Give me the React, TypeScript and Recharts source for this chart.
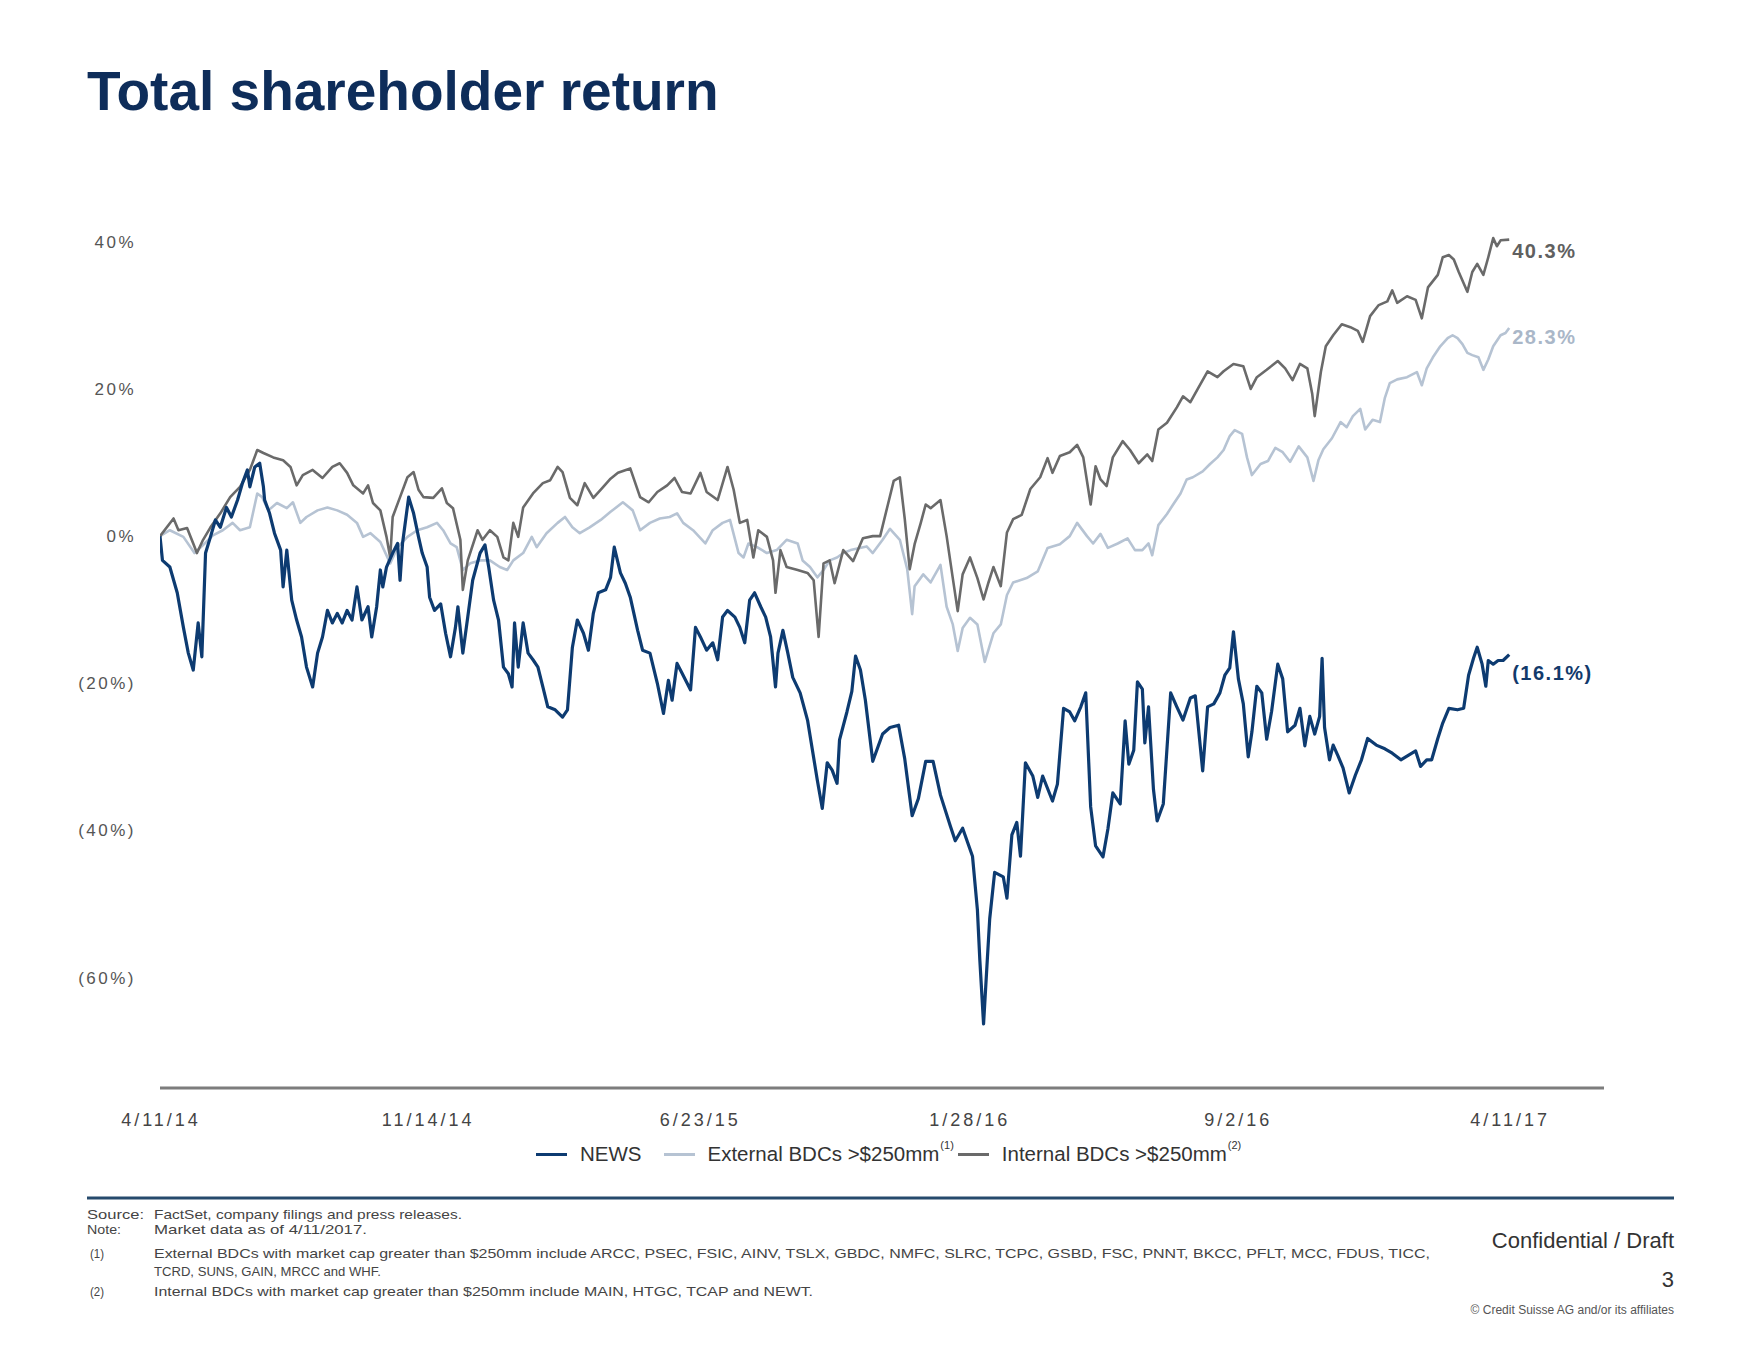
import React from 'react';
import { LineChart, Line, XAxis, YAxis, Legend } from 'recharts';

const FONT = "'Liberation Sans', Arial, sans-serif";

// x axis: days since 4/11/14
const tickDays = [0, 217, 438, 657, 875, 1096];
const tickLabels = ['4/11/14', '11/14/14', '6/23/15', '1/28/16', '9/2/16', '4/11/17'];
const yTicks = [40, 20, 0, -20, -40, -60];

// Internal BDCs >$250mm
const internalDays = [
  0, 11, 15, 22, 27, 30, 35, 41, 49, 57,
  65, 73, 79, 84, 92, 100, 106, 111, 116, 124,
  132, 140, 146, 152, 157, 165, 169, 173, 179, 184,
  187, 189, 195, 201, 206, 210, 214, 222, 229, 233,
  238, 244, 246, 250, 258, 262, 268, 274, 279, 283,
  287, 291, 295, 303, 311, 317, 323, 327, 333, 339,
  345, 352, 359, 366, 372, 382, 390, 397, 404, 412,
  418, 424, 431, 439, 444, 453, 461, 466, 471, 477,
  482, 486, 493, 498, 500, 504, 509, 518, 526, 531,
  535, 539, 544, 548, 555, 563, 571, 579, 585, 591,
  596, 601, 605, 609, 613, 618, 622, 626, 634, 639,
  644, 648, 652, 658, 664, 669, 673, 677, 683, 688,
  693, 700, 707, 715, 721, 725, 731, 739, 745, 750,
  756, 760, 764, 769, 774, 782, 788, 795, 802, 806,
  811, 818, 826, 831, 837, 843, 851, 859, 864, 872,
  880, 886, 891, 899, 908, 914, 920, 926, 932, 936,
  938, 943, 947, 953, 960, 967, 973, 977, 983, 990,
  997, 1001, 1005, 1013, 1020, 1025, 1030, 1038, 1042, 1047,
  1051, 1055, 1062, 1066, 1070, 1075, 1079, 1083, 1086, 1089,
  1096,
];
const internalReturn = [
  0, 2.4, 0.8, 1.1, -1.0, -2.3, -0.5, 1.2, 3.1, 5.3,
  6.7, 9.0, 11.7, 11.3, 10.7, 10.3, 9.4, 6.9, 8.3, 9.0,
  7.9, 9.4, 9.9, 8.6, 6.9, 5.8, 6.9, 4.5, 3.5, -0.1,
  -2.9, 2.6, 5.3, 8.0, 8.7, 6.3, 5.3, 5.2, 6.5, 4.5,
  3.8, -0.5, -7.3, -3.3, 0.8, -0.5, 0.8, -0.1, -2.9, -3.3,
  1.8, -0.1, 3.9, 5.8, 7.2, 7.6, 9.4, 8.7, 5.2, 4.2,
  7.2, 5.2, 6.5, 7.8, 8.6, 9.2, 5.3, 4.6, 6.0, 6.9,
  7.9, 6.0, 5.8, 8.6, 6.0, 4.9, 9.4, 6.3, 1.8, 2.2,
  -2.9, 0.8, -0.1, -3.3, -7.7, -1.9, -4.2, -4.6, -5.0, -6.0,
  -13.7, -3.7, -3.3, -6.4, -1.9, -3.4, -0.3, 0, 0, 4.1,
  7.5, 8.0, 2.3, -4.5, -1.1, 1.8, 4.3, 3.8, 4.9, 0,
  -5.7, -10.2, -5.2, -2.9, -5.7, -8.6, -6.3, -4.2, -6.8, 0.5,
  2.3, 2.9, 6.4, 8.0, 10.6, 8.6, 10.9, 11.4, 12.4, 10.7,
  4.3, 9.5, 7.7, 6.8, 10.7, 12.9, 11.7, 9.9, 11.1, 10.2,
  14.5, 15.4, 17.5, 19.0, 18.2, 20.0, 22.4, 21.6, 22.4, 23.4,
  23.1, 20.0, 21.6, 22.6, 23.8, 22.8, 21.2, 23.4, 22.8, 19.3,
  16.3, 22.3, 25.8, 27.3, 28.8, 28.4, 27.9, 26.4, 29.9, 31.4,
  31.9, 33.4, 31.7, 32.6, 32.1, 29.6, 33.8, 35.5, 37.9, 38.2,
  37.6, 35.9, 33.2, 35.9, 37.0, 35.5, 37.9, 40.5, 39.4, 40.2,
  40.3,
];

// External BDCs >$250mm
const externalDays = [
  0, 8, 19, 28, 35, 43, 51, 59, 65, 73,
  79, 83, 88, 95, 103, 108, 114, 119, 128, 136,
  144, 152, 160, 165, 171, 179, 187, 193, 201, 209,
  217, 225, 230, 236, 241, 246, 252, 260, 268, 276,
  282, 287, 295, 302, 306, 314, 323, 329, 335, 341,
  349, 358, 366, 376, 384, 390, 398, 406, 414, 420,
  425, 433, 443, 449, 457, 463, 470, 474, 478, 485,
  493, 501, 509, 518, 522, 528, 534, 539, 544, 550,
  555, 561, 574, 579, 587, 593, 601, 607, 611, 613,
  620, 626, 634, 639, 644, 648, 652, 658, 664, 670,
  677, 683, 688, 693, 704, 713, 721, 731, 739, 745,
  753, 758, 764, 770, 778, 786, 792, 798, 803, 806,
  811, 818, 823, 829, 834, 839, 847, 853, 859, 864,
  869, 873, 879, 883, 887, 894, 900, 906, 912, 918,
  925, 932, 937, 941, 945, 952, 959, 964, 969, 975,
  979, 985, 991, 995, 999, 1005, 1013, 1021, 1025, 1029,
  1034, 1040, 1046, 1050, 1054, 1058, 1062, 1066, 1071, 1075,
  1079, 1083, 1089, 1093, 1096,
];
const externalReturn = [
  0, 0.8, -0.1, -2.3, -1.2, 0.1, 0.8, 1.8, 0.8, 1.2,
  5.8, 5.3, 3.5, 4.5, 3.8, 4.6, 1.8, 2.6, 3.5, 3.9,
  3.5, 2.9, 1.8, -0.1, 0.4, -0.8, -3.7, -1.5, -0.1, 0.8,
  1.2, 1.8, 0.8, -1.0, -1.5, -4.6, -3.7, -3.3, -3.3, -4.2,
  -4.6, -3.3, -2.3, -0.1, -1.5, 0.4, 1.8, 2.6, 1.2, 0.4,
  1.2, 2.2, 3.3, 4.6, 3.5, 0.8, 1.8, 2.4, 2.6, 3.1,
  1.8, 0.8, -1.0, 0.8, 1.8, 2.2, -2.3, -2.9, -1.0, -1.5,
  -2.3, -1.9, -0.5, -1.0, -3.3, -4.2, -5.6, -4.6, -3.3, -2.9,
  -2.3, -1.9, -1.4, -2.3, -0.5, 1.0, -0.5, -4.5, -10.6, -6.8,
  -5.2, -6.3, -3.9, -9.6, -12.0, -15.6, -12.5, -11.1, -12.0, -17.1,
  -13.2, -12.0, -8.0, -6.3, -5.7, -4.8, -1.6, -1.1, 0, 1.8,
  0, -1.0, 0.3, -1.6, -1.0, -0.3, -1.9, -1.9, -1.0, -2.6,
  1.5, 3.0, 4.3, 5.8, 7.7, 8.0, 8.8, 9.8, 10.7, 11.7,
  13.6, 14.4, 13.9, 10.7, 8.3, 9.8, 10.2, 12.0, 11.4, 10.1,
  12.2, 10.7, 7.5, 10.3, 11.8, 13.3, 15.5, 14.8, 16.3, 17.3,
  14.5, 15.8, 15.5, 18.8, 20.8, 21.3, 21.6, 22.3, 20.5, 22.8,
  24.3, 25.8, 26.9, 27.3, 26.9, 26.1, 24.9, 24.6, 24.3, 22.6,
  24.0, 25.8, 27.3, 27.6, 28.3,
];

// NEWS
const newsDays = [
  0, 2, 8, 14, 19, 23, 27, 31, 34, 37,
  41, 45, 49, 54, 58, 63, 67, 71, 73, 77,
  81, 84, 85, 89, 93, 98, 100, 103, 107, 111,
  115, 119, 124, 128, 132, 136, 140, 144, 148, 152,
  156, 160, 164, 169, 172, 176, 179, 181, 184, 189,
  193, 195, 197, 202, 206, 210, 213, 217, 219, 223,
  228, 232, 236, 240, 242, 246, 250, 254, 260, 264,
  267, 271, 275, 279, 283, 286, 288, 291, 295, 299,
  303, 307, 311, 315, 321, 327, 331, 335, 339, 344,
  348, 352, 356, 362, 366, 369, 374, 378, 382, 388,
  392, 398, 404, 409, 413, 416, 420, 424, 431, 435,
  439, 444, 449, 453, 457, 461, 467, 471, 475, 479,
  483, 488, 492, 496, 500, 502, 506, 510, 514, 520,
  526, 530, 534, 538, 542, 546, 550, 552, 558, 562,
  565, 569, 573, 579, 587, 593, 600, 605, 611, 616,
  622, 628, 634, 642, 646, 652, 660, 664, 666, 669,
  672, 674, 678, 685, 688, 692, 696, 699, 703, 709,
  713, 717, 725, 729, 734, 739, 743, 748, 752, 756,
  760, 766, 770, 774, 780, 784, 787, 791, 794, 798,
  800, 803, 807, 810, 815, 821, 826, 831, 837, 841,
  847, 851, 856, 861, 865, 869, 872, 876, 880, 884,
  887, 891, 895, 899, 903, 908, 912, 916, 922, 926,
  930, 934, 938, 942, 944, 946, 950, 953, 957, 961,
  966, 971, 976, 981, 988, 995, 1001, 1008, 1013, 1020,
  1024, 1029, 1033, 1038, 1042, 1047, 1054, 1059, 1063, 1067,
  1070, 1074, 1077, 1079, 1083, 1087, 1091, 1096,
];
const newsReturn = [
  0, -3.3, -4.2, -7.7, -12.4, -15.9, -18.2, -11.8, -16.4, -2.3,
  -0.1, 2.2, 1.2, 3.9, 2.6, 4.9, 7.2, 9.0, 6.7, 9.4,
  9.9, 6.7, 4.9, 3.1, 0.4, -1.9, -6.9, -1.9, -8.7, -11.4,
  -13.7, -17.8, -20.5, -15.9, -13.7, -10.1, -11.8, -10.5, -11.8, -10.1,
  -11.4, -6.9, -11.4, -9.6, -13.7, -9.6, -4.6, -6.9, -4.2, -2.3,
  -1.0, -6.0, -1.0, 5.3, 3.1, -0.1, -2.3, -4.2, -8.3, -10.1,
  -9.2, -13.2, -16.4, -12.4, -9.6, -15.9, -11.0, -6.0, -2.3, -1.2,
  -4.2, -8.7, -11.4, -17.8, -18.7, -20.5, -11.8, -17.8, -11.8, -15.9,
  -16.8, -17.8, -20.5, -23.2, -23.6, -24.6, -23.6, -15.1, -11.4, -13.2,
  -15.5, -10.5, -7.7, -7.3, -5.6, -1.5, -5.0, -6.4, -8.3, -12.8,
  -15.5, -15.9, -20.0, -24.1, -19.6, -22.3, -17.3, -18.6, -20.9, -12.4,
  -13.7, -15.5, -14.5, -16.8, -11.0, -10.1, -11.0, -12.4, -14.5, -8.7,
  -7.7, -9.6, -11.0, -13.7, -20.5, -15.9, -12.8, -15.9, -19.2, -21.3,
  -25.0, -29.1, -33.2, -37.0, -30.8, -31.8, -33.6, -27.7, -23.9, -21.1,
  -16.3, -18.2, -22.3, -30.6, -26.9, -26.0, -25.7, -30.3, -38.0, -35.7,
  -30.6, -30.6, -35.2, -39.4, -41.4, -39.7, -43.5, -50.8, -57.7, -66.3,
  -57.7, -52.0, -45.7, -46.3, -49.2, -40.6, -38.9, -43.5, -30.8, -32.6,
  -35.5, -32.6, -36.0, -33.7, -23.4, -23.9, -25.1, -23.2, -21.3, -36.8,
  -42.1, -43.6, -39.8, -34.9, -36.4, -25.1, -31.0, -29.1, -19.8, -20.8,
  -28.1, -23.2, -34.4, -38.7, -36.4, -21.3, -23.2, -25.0, -22.0, -21.7,
  -31.9, -23.2, -22.8, -21.3, -18.9, -17.9, -13.0, -19.4, -22.8, -30.0,
  -26.6, -20.4, -21.3, -27.6, -23.8, -17.4, -19.4, -26.6, -25.7, -23.4,
  -28.5, -24.5, -26.9, -24.5, -16.6, -26.0, -30.4, -28.4, -29.9, -31.5,
  -34.9, -32.5, -30.4, -27.5, -28.4, -28.9, -29.5, -30.4, -29.9, -29.2,
  -31.3, -30.4, -30.4, -27.5, -25.4, -23.4, -23.6, -23.4, -18.9, -16.6,
  -15.1, -17.4, -20.4, -16.9, -17.4, -16.9, -16.9, -16.1,
];

const toRows = (days: number[], vals: number[]) => days.map((d, i) => ({ day: d, v: vals[i] }));

const series = [
  { key: 'news', name: 'NEWS', sup: '', color: '#0d3b71', width: 3.2, rows: toRows(newsDays, newsReturn), end: '(16.1%)', endColor: '#123a6b', dy: 25, gap: 22 },
  { key: 'external', name: 'External BDCs >$250mm', sup: '(1)', color: '#b6c3d3', width: 2.6, rows: toRows(externalDays, externalReturn), end: '28.3%', endColor: '#aab7c8', dy: 16, gap: 4 },
  { key: 'internal', name: 'Internal BDCs >$250mm', sup: '(2)', color: '#6a6a6a', width: 2.6, rows: toRows(internalDays, internalReturn), end: '40.3%', endColor: '#606060', dy: 18, gap: 0 },
];

const fmtPct = (v: number) => (v < 0 ? `(${-v}%)` : `${v}%`);

const XTick = ({ x, y, payload }: any) => (
  <text x={x + 1} y={y + 38} textAnchor="middle" fontSize={18} letterSpacing={3} fill="#444" fontFamily={FONT}>
    {tickLabels[tickDays.indexOf(payload.value)]}
  </text>
);

const YTick = ({ x, y, payload }: any) => (
  <text x={x - 24} y={y + 6} textAnchor="end" fontSize={17} letterSpacing={2.5} fill="#555" fontFamily={FONT}>
    {fmtPct(payload.value)}
  </text>
);

const endLabel = (s: typeof series[number]) => (props: any) => {
  if (props.index !== s.rows.length - 1) return null;
  const x = props.x ?? props.viewBox?.x;
  const y = props.y ?? props.viewBox?.y;
  return (
    <text x={x + 3} y={y + s.dy} fill={s.endColor} fontSize={20} fontWeight="bold" letterSpacing={1.5} fontFamily={FONT}>
      {s.end}
    </text>
  );
};

const LegendRow = () => (
  <div style={{ display: 'flex', alignItems: 'center', fontFamily: FONT, fontSize: 20.5, color: '#333', whiteSpace: 'nowrap' }}>
    {series.map((s) => (
      <div key={s.key} style={{ display: 'flex', alignItems: 'center', marginRight: s.gap }}>
        <span style={{ display: 'inline-block', width: 31, borderTop: `3px solid ${s.color}`, marginRight: 13 }} />
        <span>{s.name}</span>
        {s.sup && <span style={{ fontSize: 11, position: 'relative', top: -9, marginLeft: 1 }}>{s.sup}</span>}
      </div>
    ))}
  </div>
);

const notes = [
  { label: 'Source:', lx: 87, lw: 57, text: 'FactSet, company filings and press releases.', w: 308, y: 1219 },
  { label: 'Note:', lx: 87, lw: 34, text: 'Market data as of 4/11/2017.', w: 213, y: 1234 },
  { label: '(1)', lx: 90, lw: 14, text: 'External BDCs with market cap greater than $250mm include ARCC, PSEC, FSIC, AINV, TSLX, GBDC, NMFC, SLRC, TCPC, GSBD, FSC, PNNT, BKCC, PFLT, MCC, FDUS, TICC,', w: 1276, y: 1258 },
  { label: '', lx: 90, lw: 0, text: 'TCRD, SUNS, GAIN, MRCC and WHF.', w: 227, y: 1276 },
  { label: '(2)', lx: 90, lw: 14, text: 'Internal BDCs with market cap greater than $250mm include MAIN, HTGC, TCAP and NEWT.', w: 659, y: 1296 },
];

export default function App() {
  const byKey = (k: string) => series.find((s) => s.key === k)!;
  const drawOrder = ['external', 'internal', 'news'].map(byKey);
  return (
    <div style={{ position: 'absolute', left: 0, top: 0, width: 1759, height: 1356, background: '#fff' }}>
      <LineChart width={1759} height={1356} margin={{ top: 205, right: 155, bottom: 228, left: 0 }}>
        <XAxis
          dataKey="day"
          type="number"
          domain={[0, 1173]}
          ticks={tickDays}
          tick={<XTick />}
          tickLine={false}
          tickSize={0}
          tickMargin={0}
          height={40}
          axisLine={{ stroke: '#7d7d7d', strokeWidth: 3 }}
          allowDataOverflow
        />
        <YAxis
          type="number"
          domain={[-75, 45]}
          ticks={yTicks}
          tick={<YTick />}
          tickLine={false}
          tickSize={0}
          tickMargin={0}
          axisLine={false}
          width={160}
          allowDataOverflow
        />
        <Legend
          layout="horizontal"
          verticalAlign="middle"
          align="center"
          content={() => <LegendRow />}
          wrapperStyle={{ position: 'absolute', left: 536, top: 1142, width: 780 }}
        />
        {drawOrder.map((s) => (
          <Line
            key={s.key}
            data={s.rows}
            dataKey="v"
            name={s.name}
            type="linear"
            stroke={s.color}
            strokeWidth={s.width}
            strokeLinejoin="round"
            dot={false}
            activeDot={false}
            isAnimationActive={false}
            label={endLabel(s)}
          />
        ))}
      </LineChart>
      <svg width={1759} height={1356} style={{ position: 'absolute', left: 0, top: 0, pointerEvents: 'none' }} fontFamily={FONT}>
        <text x={87} y={110} fontSize={55} fontWeight="bold" fill="#0e2d5a">
          Total shareholder return
        </text>
        <line x1={87} x2={1674} y1={1198} y2={1198} stroke="#264a6c" strokeWidth={3} />
        {notes.map((n, i) => (
          <g key={i} fill="#444" fontSize={13.5}>
            {n.label && (
              <text x={n.lx} y={n.y} textLength={n.lw} lengthAdjust="spacingAndGlyphs">{n.label}</text>
            )}
            <text x={154} y={n.y} textLength={n.w} lengthAdjust="spacingAndGlyphs">{n.text}</text>
          </g>
        ))}
        <text x={1674} y={1248} textAnchor="end" fontSize={22} fill="#333">Confidential / Draft</text>
        <text x={1674} y={1287} textAnchor="end" fontSize={22} fill="#333">3</text>
        <text x={1674} y={1314} textAnchor="end" fontSize={12} fill="#555">© Credit Suisse AG and/or its affiliates</text>
      </svg>
    </div>
  );
}
